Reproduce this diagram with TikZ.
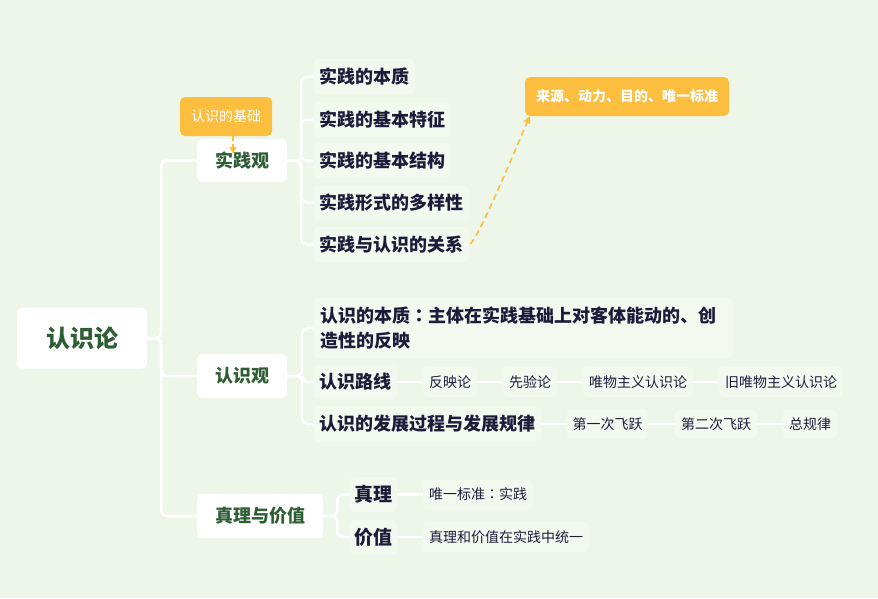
\documentclass[tikz,border=0pt]{standalone}
\usepackage{fontspec}
\setmainfont{Noto Sans CJK SC}
\newfontfamily\tcfont{Noto Sans CJK TC}
\usetikzlibrary{arrows.meta}
\definecolor{bg}{HTML}{EEF5E9}
\definecolor{itemfill}{HTML}{F4F9F0}
\definecolor{dgreen}{HTML}{2E5E34}
\definecolor{navy}{HTML}{1C1C3A}
\definecolor{orng}{HTML}{FBBE3E}
\tikzset{
  topbox/.style={fill=white, rounded corners=5pt, inner sep=0pt, font=\fontsize{18}{21}\selectfont\bfseries, text=dgreen},
  itembox/.style={fill=itemfill, rounded corners=5pt, inner sep=0pt, font=\fontsize{18}{21}\selectfont\bfseries, text=navy, minimum height=35pt},
  smallbox/.style={fill=itemfill, rounded corners=5pt, inner sep=0pt, font=\fontsize{14}{16}\selectfont, text=navy, minimum height=30pt},
  callout/.style={fill=orng, rounded corners=5pt, inner sep=0pt, font=\fontsize{14}{16}\selectfont\bfseries, text=white, minimum height=39pt},
  conn/.style={draw=white, line width=2.5pt, rounded corners=6pt},
  dashconn/.style={draw=orng, line width=1.6pt, dash pattern=on 6pt off 4pt, -{Triangle[length=7pt,width=7pt]}},
}
\begin{document}
\begin{tikzpicture}[x=1pt,y=-1pt]
\useasboundingbox (0,0) rectangle (878,598);
\fill[bg] (0,0) rectangle (878,598);
% main nodes
\node[topbox, minimum width=130pt, minimum height=61pt, font=\fontsize{24}{28}\selectfont\bfseries] (root) at (82,338) {认识论};
\node[topbox, minimum width=90pt, minimum height=43pt] (sjg) at (242,160.5) {实践观};
\node[topbox, minimum width=90pt, minimum height=44pt] (rsg) at (242,376) {认识观};
\node[topbox, minimum width=126pt, minimum height=44pt] (zl) at (260,516) {真理与价值};
% practice children
\node[itembox, minimum width=102pt] (a1) at (364,76.5) {实践的本质};
\node[itembox, minimum width=138pt] (a2) at (382,119.5) {实践的基本特征};
\node[itembox, minimum width=138pt] (a3) at (382,160.5) {实践的基本结构};
\node[itembox, minimum width=156pt] (a4) at (391,202.5) {实践形式的多样性};
\node[itembox, minimum width=156pt] (a5) at (391,244.5) {实践与认识的关系};
% cognition children
\node[itembox, minimum width=420pt, minimum height=60pt, text width=406pt, align=left, font=\fontsize{18}{25}\selectfont\bfseries] (b1) at (523,328) {认识的本质{\tcfont ：}主体在实践基础上对客体能动的、创\\造性的反映};
\node[itembox, minimum width=84pt] (b2) at (355,382) {认识路线};
\node[itembox, minimum width=228pt] (b3) at (427,424) {认识的发展过程与发展规律};
\node[smallbox, minimum width=54pt] (c1) at (450,382) {反映论};
\node[smallbox, minimum width=54pt] (c2) at (530,382) {先验论};
\node[smallbox, minimum width=110pt] (c3) at (638,382) {唯物主义认识论};
\node[smallbox, minimum width=124pt] (c4) at (781,382) {旧唯物主义认识论};
\node[smallbox, minimum width=81pt] (d1) at (607.5,424) {第一次飞跃};
\node[smallbox, minimum width=82pt] (d2) at (716,424) {第二次飞跃};
\node[smallbox, minimum width=54pt] (d3) at (810,424) {总规律};
% truth children
\node[itembox, minimum width=48pt, font=\fontsize{19}{21}\selectfont\bfseries] (e1) at (373,494.5) {真理};
\node[itembox, minimum width=48pt, font=\fontsize{19}{21}\selectfont\bfseries] (e2) at (373,537) {价值};
\node[smallbox, minimum width=110pt] (f1) at (478,494.5) {唯一标准{\tcfont ：}实践};
\node[smallbox, minimum width=166pt] (f2) at (506,537) {真理和价值在实践中统一};
% callouts
\node[callout, minimum width=92pt, font=\fontsize{14}{16}\selectfont] (k1) at (226,116.5) {认识的基础};
\node[callout, minimum width=204pt] (k2) at (627,96.5) {来源、动力、目的、唯一标准};
% connectors
\draw[conn] (root.east) -- ++(14,0) |- (sjg.west);
\draw[conn] (root.east) -- ++(14,0) |- (rsg.west);
\draw[conn] (root.east) -- ++(14,0) |- (zl.west);
\foreach \n in {a1,a2,a3,a4,a5} \draw[conn] (sjg.east) -- ++(14,0) |- (\n.west);
\foreach \n in {b1,b2,b3} \draw[conn] (rsg.east) -- ++(15,0) |- (\n.west);
\foreach \n in {e1,e2} \draw[conn] (zl.east) -- ++(14,0) |- (\n.west);
\draw[conn] (b2.east) -- (c1.west);
\draw[conn] (c1.east) -- (c2.west);
\draw[conn] (c2.east) -- (c3.west);
\draw[conn] (c3.east) -- (c4.west);
\draw[conn] (b3.east) -- (d1.west);
\draw[conn] (d1.east) -- (d2.west);
\draw[conn] (d2.east) -- (d3.west);
\draw[conn] (e1.east) -- (f1.west);
\draw[conn] (e2.east) -- (f2.west);
% dashed arrows
\draw[dashconn, dash pattern=on 5pt off 3pt] ([xshift=7pt]k1.south) -- ([xshift=-9pt,yshift=-15pt]sjg.north);
\draw[dashconn] ([xshift=1pt,yshift=-17pt]a5.north east) .. controls ++(8,-4) and ++(-8,18) .. ([xshift=5pt]k2.south west);
\end{tikzpicture}
\end{document}
